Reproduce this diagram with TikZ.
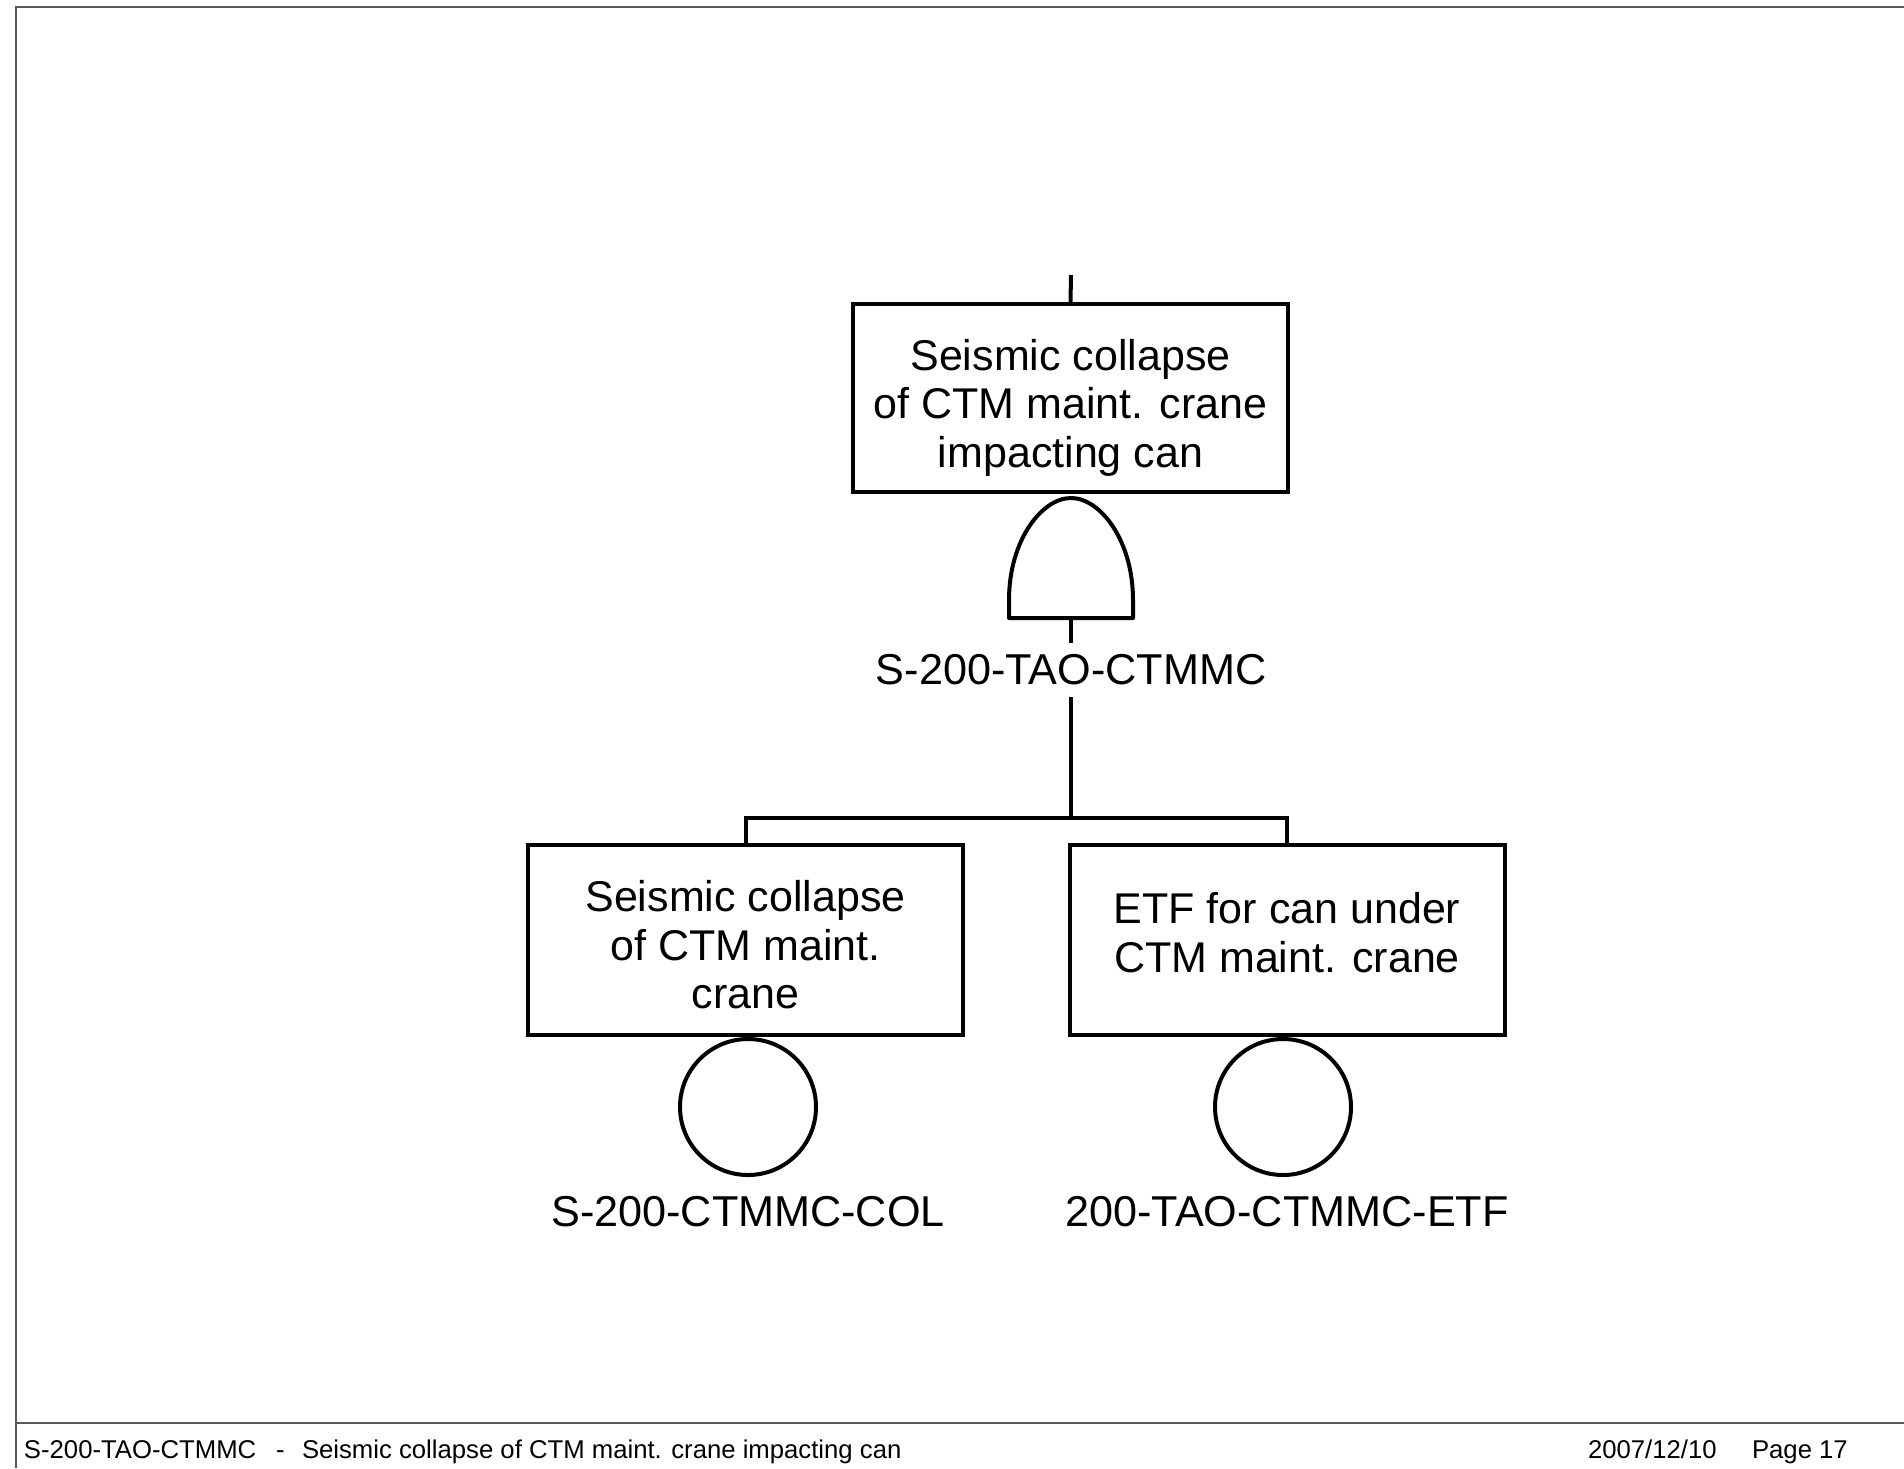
\documentclass[tikz,border=0pt]{standalone}
\usepackage{fontspec}
\setmainfont{Liberation Sans}
\begin{document}
\begin{tikzpicture}[x=0.5pt,y=-0.5pt,
  line width=2pt,
  frame/.style={draw=black!65, line width=1pt},
  event/.style={draw, line width=2pt, minimum width=217.5pt, minimum height=94pt, inner sep=0pt},
  evtext/.style={align=center, font=\fontsize{21.5}{24.3}\selectfont, inner sep=0pt},
  basic/.style={draw, circle, line width=2pt, minimum size=68pt, inner sep=0pt},
  gatestyle/.style={draw, line width=2pt, line join=round},
  lbl/.style={font=\fontsize{21.6}{24.3}\selectfont, inner sep=5pt},
  foot/.style={font=\fontsize{12.85}{15}\selectfont, inner sep=0pt, anchor=base west}]
\useasboundingbox (0,0) rectangle (1904,1468);
% frame
\draw[frame] (1904,7) -- (16,7) -- (16,1468);
\draw[frame] (16,1423) -- (1904,1423);
% top event
\node[event] (top) at (1070.5,398) {};
\node[evtext] (toptxt) at (1070.5,407.5) {Seismic collapse\\of CTM maint. crane\\impacting can};
\coordinate (topin) at (1071,275);
\draw (topin) -- (top.north);
% AND gate
\coordinate (gtop) at (1071,498);
\coordinate (gbot) at (1071,618);
\draw[gatestyle] (1009,618) -- (1009,600) .. controls (1009,540) and (1042,498) .. (gtop) .. controls (1100,498) and (1133,540) .. (1133,600) -- (1133,618) -- cycle;
\node[lbl] (glabel) at (1071,670) {S-200-TAO-CTMMC};
\draw (gbot) -- (glabel.north);
\coordinate (bar) at (1071,818);
\draw (glabel.south) -- (bar);
% children
\node[event, minimum height=95pt] (bl) at (745.5,940) {};
\node[evtext] (bltxt) at (745.5,945) {Seismic collapse\\of CTM maint.\\crane};
\node[event, minimum height=95pt] (br) at (1287,940) {};
\node[evtext] (brtxt) at (1287,932.5) {ETF for can under\\CTM maint. crane};
\draw (bl.north) |- (bar) -| (br.north);
% basic events
\node[basic] (cl) at (748,1107) {};
\node[basic] (cr) at (1283,1107) {};
\node[lbl] (ll) at (748,1212) {S-200-CTMMC-COL};
\node[lbl] (lr) at (1287,1212) {200-TAO-CTMMC-ETF};
% footer
\node[foot] (f1) at (22,1458) {S-200-TAO-CTMMC};
\node[foot] (f2) at (274,1458) {-};
\node[foot] (f3) at (300,1458) {Seismic collapse of CTM maint. crane impacting can};
\node[foot] (f4) at (1586,1458) {2007/12/10};
\node[foot] (f5) at (1750,1458) {Page 17};
\end{tikzpicture}
\end{document}
